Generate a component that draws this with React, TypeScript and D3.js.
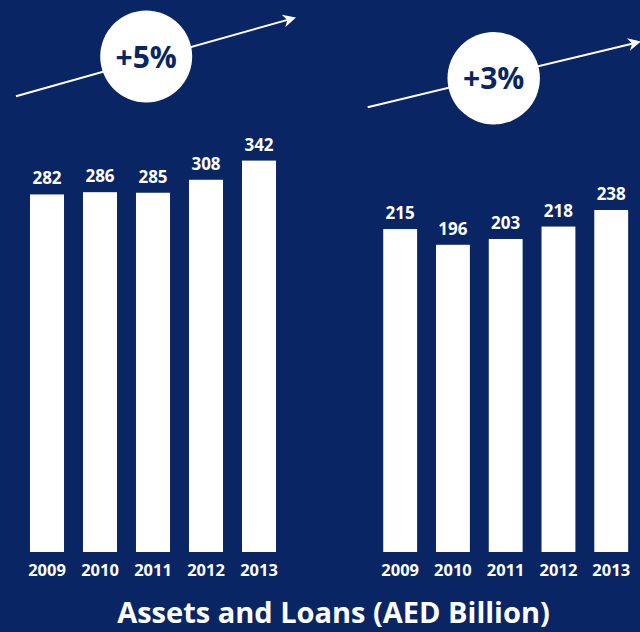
import React from "react";
import * as d3 from "d3";

const years = ["2009", "2010", "2011", "2012", "2013"];
const assets = [282, 286, 285, 308, 342];
const loans = [215, 196, 203, 218, 238];
const growthLabels = ["+5%", "+3%"];
const title = "Assets and Loans (AED Billion)";

const W = 640;
const H = 632;
const BG = "#0a2563";
const NAVY = "#0a2563";
const FONT = "'Open Sans', 'Noto Sans', sans-serif";
const BASE_Y = 552;

type Panel = {
  values: number[];
  xRange: [number, number];
  yDomain: [number, number];
  yTop: number;
  circle: { cx: number; cy: number; r: number };
  arrow: [number, number, number, number];
  label: string;
};

const panels: Panel[] = [
  {
    values: assets,
    xRange: [20.5, 285.5],
    yDomain: [-352, 342],
    yTop: 160.6,
    circle: { cx: 146.2, cy: 56.5, r: 46 },
    arrow: [16, 96.3, 296, 17.5],
    label: growthLabels[0],
  },
  {
    values: loans,
    xRange: [373.8, 637.6],
    yDomain: [-175, 238],
    yTop: 210,
    circle: { cx: 493.7, cy: 78.2, r: 46.2 },
    arrow: [367.7, 107.3, 641, 41.5],
    label: growthLabels[1],
  },
];

function ArrowLine({ a }: { a: [number, number, number, number] }) {
  const [x1, y1, x2, y2] = a;
  const rad = Math.atan2(y2 - y1, x2 - x1);
  const ang = (rad * 180) / Math.PI;
  return (
    <g>
      <line
        x1={x1}
        y1={y1}
        x2={x2 - 6 * Math.cos(rad)}
        y2={y2 - 6 * Math.sin(rad)}
        stroke="#fff"
        strokeWidth={2}
      />
      <path
        d="M0,0 L-13,-6.5 L-9,0 L-13,6.5 Z"
        fill="#fff"
        transform={`translate(${x2},${y2}) rotate(${ang})`}
      />
    </g>
  );
}

function BarPanel({ p }: { p: Panel }) {
  const x = d3
    .scaleBand<string>()
    .domain(years)
    .range(p.xRange)
    .paddingInner(0.358)
    .paddingOuter(0.179);
  const y = d3.scaleLinear().domain(p.yDomain).range([BASE_Y, p.yTop]);
  return (
    <g>
      <ArrowLine a={p.arrow} />
      <circle cx={p.circle.cx} cy={p.circle.cy} r={p.circle.r} fill="#fff" />
      <text
        x={p.circle.cx}
        y={p.circle.cy + 11}
        textAnchor="middle"
        fill={NAVY}
        fontFamily={FONT}
        fontWeight={700}
        fontSize={30}
      >
        {p.label}
      </text>
      {years.map((yr, i) => {
        const v = p.values[i];
        const bx = x(yr)!;
        const top = y(v);
        return (
          <g key={yr}>
            <rect x={bx} y={top} width={x.bandwidth()} height={BASE_Y - top} fill="#fff" />
            <text
              x={bx + x.bandwidth() / 2}
              y={top - 10}
              textAnchor="middle"
              fill="#fff"
              fontFamily={FONT}
              fontWeight={700}
              fontSize={17}
            >
              {v}
            </text>
            <text
              x={bx + x.bandwidth() / 2}
              y={576}
              textAnchor="middle"
              fill="#fff"
              fontFamily={FONT}
              fontWeight={700}
              fontSize={16.5}
            >
              {yr}
            </text>
          </g>
        );
      })}
    </g>
  );
}

export default function App() {
  return (
    <svg
      width={W}
      height={H}
      style={{ position: "absolute", left: 0, top: 0, display: "block" }}
    >
      <rect width={W} height={H} fill={BG} />
      {panels.map((p, i) => (
        <BarPanel key={i} p={p} />
      ))}
      <text
        x={333.5}
        y={623}
        textAnchor="middle"
        fill="#fff"
        fontFamily={FONT}
        fontWeight={700}
        fontSize={29}
      >
        {title}
      </text>
    </svg>
  );
}
